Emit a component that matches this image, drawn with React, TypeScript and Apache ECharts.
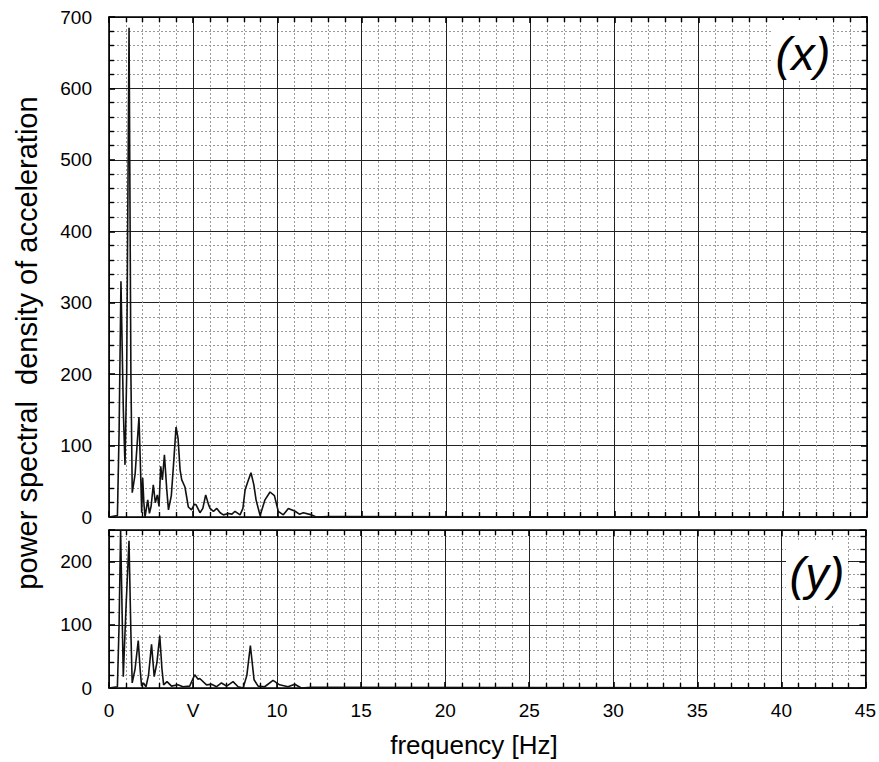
import React, { useEffect, useRef } from 'react';
import * as echarts from 'echarts';

const FONT = '"Liberation Sans", Arial, Helvetica, sans-serif';

// (x) direction – power spectral density of acceleration
const xFreq = [0, 0.5, 0.6, 0.71, 0.85, 0.95, 1.05, 1.19, 1.3, 1.38, 1.55, 1.78, 1.88, 1.94, 2.0, 2.07, 2.14, 2.3, 2.4, 2.5, 2.63, 2.75, 2.87, 2.97, 3.07, 3.17, 3.29, 3.43, 3.53, 3.7, 3.85, 3.98, 4.1, 4.22, 4.32, 4.51, 4.71, 4.9, 5.07, 5.17, 5.4, 5.57, 5.74, 5.9, 6.0, 6.2, 6.4, 6.6, 6.79, 7.09, 7.3, 7.48, 7.78, 7.95, 8.08, 8.25, 8.43, 8.6, 8.73, 8.97, 9.26, 9.56, 9.82, 10.05, 10.35, 10.65, 11.05, 11.3, 11.54, 12.03, 12.3, 13, 45];
const xPsd = [0, 2, 120, 330, 150, 73, 200, 685, 200, 34, 60, 140, 60, 6, 55, 20, 0, 24, 5, 15, 45, 20, 31, 15, 71, 52, 87, 38, 10, 30, 80, 126, 110, 66, 52, 42, 14, 10, 18, 17, 6, 12, 31, 18, 12, 8, 12, 6, 3, 5, 4, 8, 3, 12, 38, 50, 62, 45, 24, 2, 24, 35, 30, 8, 3, 12, 8, 4, 6, 3, 0, 0.5, 0];

// (y) direction
const yFreq = [0, 0.5, 0.6, 0.69, 0.78, 0.85, 1.0, 1.19, 1.3, 1.38, 1.55, 1.74, 1.85, 1.94, 2.05, 2.2, 2.35, 2.53, 2.69, 2.85, 3.02, 3.15, 3.25, 3.45, 3.72, 4.1, 4.4, 4.8, 5.1, 5.3, 5.4, 5.8, 6.1, 6.4, 6.69, 7.0, 7.38, 7.68, 7.98, 8.2, 8.41, 8.63, 8.87, 9.26, 9.76, 10.15, 10.65, 11.05, 11.44, 12, 45];
const yPsd = [0, 2, 100, 250, 120, 18, 120, 233, 90, 8, 30, 75, 30, 3, 8, 2, 20, 69, 18, 40, 83, 30, 5, 10, 3, 5, 2, 3, 21, 14, 15, 5, 6, 2, 8, 3, 10, 2, 0, 20, 67, 13, 3, 2, 12, 5, 2, 6, 0, 1, 0];

const freqRange = [0, 45];
const freqStep = 5;
const topRange = [0, 700];
const bottomRange = [0, 250];
const psdStep = 100;
const labelSubstitutes: Record<number, string> = { 5: 'V' };

const pairs = (a: number[], b: number[]) => a.map((f, i) => [f, b[i]]);

export default function App() {
  const ref = useRef<HTMLDivElement>(null);
  useEffect(() => {
    const chart = echarts.init(ref.current!, null, { renderer: 'svg' });
    const axisLine = { show: true, onZero: false, lineStyle: { color: '#000', width: 1.6 } };
    const axisTick = { show: true, inside: true, length: 6, lineStyle: { color: '#000', width: 1.6 } };
    const minorTick = (n: number) => ({ show: true, splitNumber: n, length: 5, lineStyle: { color: '#000', width: 1.4 } });
    const splitLine = { show: true, lineStyle: { color: '#222', width: 1 } };
    const minorSplitLine = { show: true, lineStyle: { color: '#9a9a9a', width: 1, type: [2, 2] } };
    const none = { show: false };
    const labelStyle = { color: '#000', fontFamily: FONT, fontSize: 19 };

    const mkX = (gridIndex: number, position: string, main: boolean, labels: boolean) => ({
      type: 'value', gridIndex, position, min: freqRange[0], max: freqRange[1], interval: freqStep,
      axisLine, axisTick, minorTick: minorTick(5),
      splitLine: main ? splitLine : none, minorSplitLine: main ? minorSplitLine : none,
      axisLabel: labels ? {
        show: true, margin: 13, ...labelStyle,
        formatter: (v: number) => labelSubstitutes[v] ?? String(v),
      } : none,
    });
    const mkY = (gridIndex: number, position: string, main: boolean, range: number[]) => ({
      type: 'value', gridIndex, position, min: range[0], max: range[1], interval: psdStep,
      axisLine, axisTick, minorTick: minorTick(5),
      splitLine: main ? splitLine : none, minorSplitLine: main ? minorSplitLine : none,
      axisLabel: main ? {
        show: true, margin: 17, ...labelStyle,
        formatter: (v: number) => (v % psdStep === 0 ? String(v) : ''),
      } : none,
    });

    chart.setOption({
      animation: false,
      backgroundColor: '#fff',
      grid: [
        { left: 109, top: 17, width: 758, height: 500, containLabel: false },
        { left: 109, top: 530, width: 758, height: 158, containLabel: false },
      ],
      xAxis: [
        mkX(0, 'bottom', true, false),
        mkX(0, 'top', false, false),
        mkX(1, 'bottom', true, true),
        mkX(1, 'top', false, false),
      ],
      yAxis: [
        mkY(0, 'left', true, topRange),
        mkY(0, 'right', false, topRange),
        mkY(1, 'left', true, bottomRange),
        mkY(1, 'right', false, bottomRange),
      ],
      series: [
        {
          type: 'line', xAxisIndex: 0, yAxisIndex: 0, data: pairs(xFreq, xPsd),
          showSymbol: false, symbol: 'none', lineStyle: { color: '#111', width: 1.6 }, z: 5,
        },
        {
          type: 'line', xAxisIndex: 2, yAxisIndex: 2, data: pairs(yFreq, yPsd),
          showSymbol: false, symbol: 'none', lineStyle: { color: '#111', width: 1.6 }, z: 5,
        },
      ],
      graphic: [
        { type: 'rect', z: 100, shape: { x: 771, y: 20, width: 62, height: 60 }, style: { fill: '#fff' } },
        {
          type: 'text', z: 101, x: 803, y: 53,
          style: { text: '(x)', font: `italic 47px ${FONT}`, fill: '#000', textAlign: 'center', textVerticalAlign: 'middle', align: 'center', verticalAlign: 'middle' },
        },
        { type: 'rect', z: 100, shape: { x: 786, y: 540, width: 62, height: 66 }, style: { fill: '#fff' } },
        {
          type: 'text', z: 101, x: 817, y: 573,
          style: { text: '(y)', font: `italic 47px ${FONT}`, fill: '#000', textAlign: 'center', textVerticalAlign: 'middle', align: 'center', verticalAlign: 'middle' },
        },
        {
          type: 'text', z: 101, x: 27, y: 343, rotation: Math.PI / 2,
          style: { text: 'power spectral  density of acceleration', font: `29px ${FONT}`, fill: '#000', textAlign: 'center', textVerticalAlign: 'middle', align: 'center', verticalAlign: 'middle' },
        },
        {
          type: 'text', z: 101, x: 474, y: 745,
          style: { text: 'frequency [Hz]', font: `26px ${FONT}`, fill: '#000', textAlign: 'center', textVerticalAlign: 'middle', align: 'center', verticalAlign: 'middle' },
        },
      ],
    });
    return () => chart.dispose();
  }, []);
  return <div ref={ref} style={{ position: 'absolute', left: 0, top: 0, width: 879, height: 762 }} />;
}
